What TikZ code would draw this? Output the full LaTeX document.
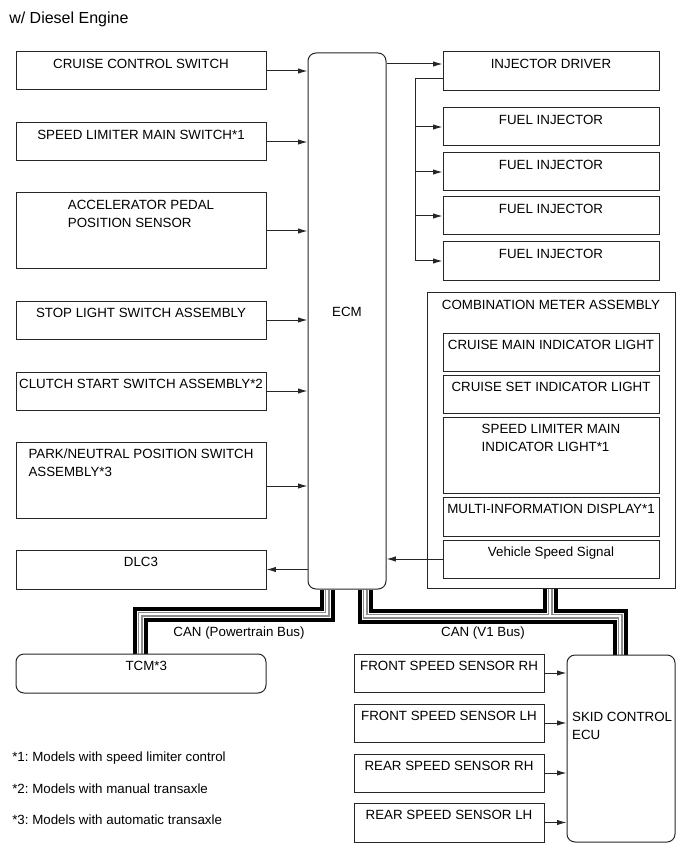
\documentclass[tikz,border=0pt]{standalone}
\usepackage{fontspec}
\setmainfont{Liberation Sans}
\frenchspacing
\usetikzlibrary{arrows.meta,fit,backgrounds}

\tikzset{
    blk/.style={draw=black!85, line width=0.75pt, inner sep=0pt},
    rblk/.style={blk, rounded corners=6pt},
    lbl/.style={inner sep=0pt, align=left, font=\fontsize{10}{13.5}\selectfont},
    ttl/.style={lbl, anchor=north, yshift=-5.5pt},
    sig/.style={draw=black!85, line width=0.75pt, -{Latex[length=7pt,width=4pt]}},
    wire/.style={draw=black!85, line width=0.75pt},
}

\begin{document}
\begin{tikzpicture}[x=0.75pt, y=-0.75pt]
    \useasboundingbox (0,0) rectangle (691,855);
    \node[lbl, anchor=west, font=\fontsize{12}{14}\selectfont] (head) at (9,19) {w/ Diesel Engine};
    % Below nodes are the input switches and sensors.
        \node[blk, fit={(16,52) (266,90)}, label={[ttl]north:CRUISE CONTROL SWITCH}] (ccs) {};
        \node[blk, fit={(16,123) (266,161)}, label={[ttl]north:SPEED LIMITER MAIN SWITCH*1}] (slm) {};
        \node[blk, fit={(16,193) (266,269)}, label={[ttl]north:ACCELERATOR PEDAL\\POSITION SENSOR}] (apps) {};
        \node[blk, fit={(16,301) (266,339)}, label={[ttl]north:STOP LIGHT SWITCH ASSEMBLY}] (stp) {};
        \node[blk, fit={(16,372) (266,410)}, label={[ttl]north:CLUTCH START SWITCH ASSEMBLY*2}] (clu) {};
        \node[blk, fit={(16,442) (266,518)}, label={[ttl]north:PARK/NEUTRAL POSITION SWITCH\\ASSEMBLY*3}] (pns) {};
        \node[blk, fit={(16,550) (266,589)}, label={[ttl]north:DLC3}] (dlc) {};
        \node[rblk, fit={(16,654) (266,693)}, label={[ttl, xshift=4pt]north:TCM*3}] (tcm) {};
    % The ECM.
        \node[rblk, fit={(308,53) (386,589)}, label={[lbl, anchor=center, yshift=7pt]center:ECM}] (ecm) {};
    % Injector side.
        \node[blk, fit={(443,52) (659,91)}, label={[ttl]north:INJECTOR DRIVER}] (drv) {};
        \node[blk, fit={(443,108) (659,146)}, label={[ttl]north:FUEL INJECTOR}] (inj1) {};
        \node[blk, fit={(443,153) (659,191)}, label={[ttl]north:FUEL INJECTOR}] (inj2) {};
        \node[blk, fit={(443,197) (659,235)}, label={[ttl]north:FUEL INJECTOR}] (inj3) {};
        \node[blk, fit={(443,242) (659,280)}, label={[ttl]north:FUEL INJECTOR}] (inj4) {};
    % Combination meter and its parts.
        \node[blk, fit={(427,292) (675,588)}, label={[ttl, yshift=-1pt]north:COMBINATION METER ASSEMBLY}] (cmb) {};
        \node[blk, fit={(443,333) (659,371)}, label={[ttl]north:CRUISE MAIN INDICATOR LIGHT}] (cmi) {};
        \node[blk, fit={(443,375) (659,413)}, label={[ttl]north:CRUISE SET INDICATOR LIGHT}] (csi) {};
        \node[blk, fit={(443,417) (659,493)}, label={[ttl]north:SPEED LIMITER MAIN\\INDICATOR LIGHT*1}] (slmi) {};
        \node[blk, fit={(443,497) (659,536)}, label={[ttl]north:MULTI-INFORMATION DISPLAY*1}] (mid) {};
        \node[blk, fit={(443,540) (659,578)}, label={[ttl]north:Vehicle Speed Signal}] (vss) {};
    % Skid control side.
        \node[blk, fit={(354,654) (544,692)}, label={[ttl]north:FRONT SPEED SENSOR RH}] (fsr) {};
        \node[blk, fit={(354,704) (544,742)}, label={[ttl]north:FRONT SPEED SENSOR LH}] (fsl) {};
        \node[blk, fit={(354,754) (544,792)}, label={[ttl]north:REAR SPEED SENSOR RH}] (rsr) {};
        \node[blk, fit={(354,803) (544,842)}, label={[ttl]north:REAR SPEED SENSOR LH}] (rsl) {};
        \node[rblk, fit={(567,655) (675,842)}, label={[lbl, anchor=west, xshift=4pt, yshift=17pt]west:SKID CONTROL\\ECU}] (skid) {};
    % Signal lines.
        \foreach \n in {ccs,slm,apps,stp,clu}
            \draw[sig] (\n.east) -- (\n.east -| ecm.west);
        \draw[sig] (pns.east |- 0,486) -- (ecm.west |- 0,486);
        \draw[sig] (dlc.east -| ecm.west) -- (dlc.east);
        \draw[sig] (vss.west) -- (vss.west -| ecm.east);
        \draw[sig] (ecm.east |- 0,64) -- (drv.west |- 0,64);
        \coordinate (split) at (415,79);
        \draw[wire] (drv.west |- split) -- (split) -- (split |- inj4.west);
        \foreach \n in {inj1,inj2,inj3,inj4}
            \draw[sig] (split |- \n.west) -- (\n.west);
        \foreach \n in {fsr,fsl,rsr,rsl}
            \draw[sig] (\n.east) -- (\n.east -| skid.west);
    % CAN buses.
        \begin{pgfonlayer}{background}
        \foreach \w/\c in {11.25pt/black, 5.25pt/white, 3.75pt/black!45, 1.5pt/white}{
            \draw[line width=\w, \c] (ecm.south -| 327,0) |- (140,614) -- (tcm.north -| 140,0);
            \draw[line width=\w, \c] (ecm.south -| 365,0) |- (620,616) -- (skid.north -| 620,0);
            \draw[line width=\w, \c] (cmb.south -| 550,0) -- (550,616);
        }
        \end{pgfonlayer}
        \node[lbl] (ptbus) at (239,633) {CAN (Powertrain Bus)};
        \node[lbl] (v1bus) at (483,633) {CAN (V1 Bus)};
    % Notes.
        \node[lbl, anchor=west] (n1) at (12,758) {*1: Models with speed limiter control};
        \node[lbl, anchor=west] (n2) at (12,789) {*2: Models with manual transaxle};
        \node[lbl, anchor=west] (n3) at (12,820) {*3: Models with automatic transaxle};
\end{tikzpicture}
\end{document}
